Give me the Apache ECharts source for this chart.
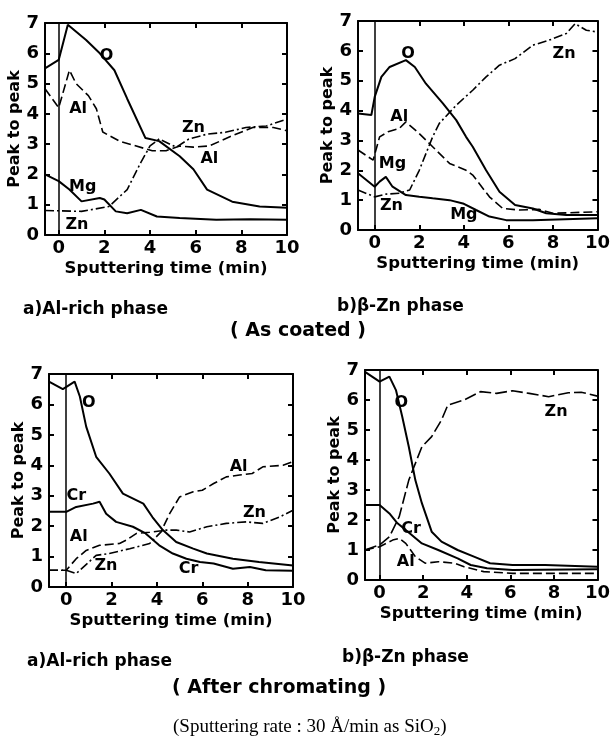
<!DOCTYPE html>
<html>
<head>
<meta charset="utf-8">
<script src="https://cdn.jsdelivr.net/npm/echarts@6/dist/echarts.min.js"></script>
<style>
html, body { margin: 0; padding: 0; background: #fff; }
#chart { width: 613px; height: 745px; }
</style>
</head>
<body>
<div id="chart"></div>
<script>
var xTicks = [0, 2, 4, 6, 8, 10];
var yMax = 7;

// (As coated) a) Al-rich phase  -- [time (min), peak to peak]
var coatedAl_O  = [[-0.6,5.5],[0,5.78],[0.4,6.94],[1.2,6.44],[1.8,6.0],[2.44,5.44],[3.0,4.5],[3.8,3.2],[4.4,3.1],[5.3,2.6],[5.9,2.17],[6.5,1.5],[7.6,1.1],[8.8,0.94],[10,0.9]];
var coatedAl_Al = [[-0.6,4.83],[0,4.2],[0.47,5.44],[0.76,5.0],[1.3,4.6],[1.65,4.17],[1.93,3.4],[2.66,3.1],[4.1,2.78],[4.7,2.78],[5.3,2.94],[5.9,2.9],[6.6,2.94],[7.6,3.28],[8.5,3.55],[9.4,3.55],[10,3.44]];
var coatedAl_Zn = [[-0.6,0.81],[1.0,0.78],[2.2,0.94],[3.0,1.5],[3.6,2.4],[4.0,2.94],[4.4,3.17],[5.15,2.9],[5.7,3.17],[6.5,3.33],[7.3,3.39],[8.2,3.55],[9.1,3.6],[10,3.83]];
var coatedAl_Mg = [[-0.6,2.0],[0,1.78],[0.47,1.5],[1.0,1.11],[1.8,1.22],[2.0,1.17],[2.5,0.78],[3.0,0.72],[3.6,0.83],[4.3,0.61],[5.3,0.56],[6.9,0.5],[8.4,0.52],[10,0.5]];
var coatedAl_labels = [[2.1,5.9,'O'],[0.85,4.15,'Al'],[5.9,3.55,'Zn'],[6.6,2.5,'Al'],[1.05,1.6,'Mg'],[0.8,0.35,'Zn']];

// (As coated) b) beta-Zn phase
var coatedZn_O  = [[-0.75,3.9],[-0.15,3.85],[0,4.46],[0.3,5.13],[0.67,5.46],[1.4,5.69],[1.8,5.46],[2.3,4.9],[3.06,4.24],[3.66,3.68],[4.1,3.12],[4.4,2.79],[5.0,2.0],[5.6,1.28],[6.3,0.84],[7.1,0.72],[7.7,0.56],[8.6,0.5],[10,0.5]];
var coatedZn_Al = [[-0.75,2.68],[-0.07,2.34],[0.22,3.12],[0.6,3.29],[1.1,3.4],[1.4,3.62],[2.0,3.23],[2.6,2.79],[3.36,2.23],[4.1,2.0],[4.4,1.84],[5.15,1.11],[5.75,0.72],[6.5,0.67],[7.4,0.69],[8.0,0.56],[10,0.61]];
var coatedZn_Zn = [[-0.75,1.34],[0,1.11],[0.5,1.2],[1.1,1.23],[1.57,1.34],[2.0,2.0],[2.6,3.12],[2.9,3.57],[3.66,4.18],[4.4,4.68],[5.0,5.13],[5.6,5.52],[6.3,5.74],[7.1,6.19],[7.8,6.35],[8.6,6.58],[9.0,6.91],[9.5,6.69],[10,6.63]];
var coatedZn_Mg = [[-0.75,1.9],[0,1.45],[0.22,1.62],[0.5,1.78],[0.8,1.45],[1.4,1.17],[2.0,1.11],[2.6,1.06],[3.36,1.0],[3.96,0.89],[4.55,0.67],[5.15,0.45],[5.9,0.33],[7.1,0.33],[10,0.39]];
var coatedZn_labels = [[1.5,5.9,'O'],[1.1,3.8,'Al'],[0.8,2.2,'Mg'],[0.75,0.8,'Zn'],[4.0,0.5,'Mg'],[8.5,5.9,'Zn']];

// (After chromating) a) Al-rich phase
var chromAl_O  = [[-0.76,6.75],[-0.15,6.5],[0.37,6.75],[0.6,6.26],[0.88,5.27],[1.32,4.28],[1.9,3.73],[2.5,3.07],[3.4,2.74],[3.8,2.3],[4.26,1.87],[4.85,1.48],[5.6,1.26],[6.2,1.1],[7.35,0.93],[8.5,0.82],[10,0.71]];
var chromAl_Cr = [[-0.76,2.47],[0,2.47],[0.44,2.63],[1.18,2.74],[1.47,2.8],[1.76,2.41],[2.2,2.14],[2.94,1.98],[3.5,1.76],[4.1,1.37],[4.7,1.1],[5.3,0.93],[5.9,0.82],[6.5,0.77],[7.35,0.6],[8.1,0.66],[8.8,0.55],[10,0.53]];
var chromAl_Al = [[-0.76,0.55],[0,0.55],[0.44,0.93],[0.88,1.2],[1.47,1.37],[2.35,1.43],[2.65,1.54],[3.1,1.76],[3.68,1.8],[4.2,1.85],[4.56,2.41],[5.0,2.96],[5.6,3.13],[6.0,3.18],[6.5,3.4],[7.06,3.62],[7.65,3.68],[8.2,3.73],[8.67,3.95],[9.56,4.0],[10,4.12]];
var chromAl_Zn = [[-0.76,0.55],[0,0.55],[0.44,0.44],[1.32,1.04],[1.9,1.1],[2.8,1.26],[3.68,1.43],[4.26,1.87],[4.85,1.87],[5.44,1.81],[6.2,1.98],[7.06,2.09],[7.94,2.14],[8.67,2.09],[9.4,2.3],[10,2.52]];
var chromAl_labels = [[1.0,6.05,'O'],[0.45,3.0,'Cr'],[0.55,1.65,'Al'],[1.75,0.7,'Zn'],[5.4,0.6,'Cr'],[7.6,3.95,'Al'],[8.3,2.45,'Zn']];

// (After chromating) b) beta-Zn phase
var chromZn_O  = [[-0.67,6.94],[0,6.61],[0.45,6.78],[0.75,6.33],[1.04,5.44],[1.34,4.44],[1.64,3.33],[1.94,2.56],[2.39,1.61],[2.84,1.28],[3.58,1.0],[4.33,0.78],[5.07,0.56],[6.1,0.5],[7.6,0.5],[10,0.44]];
var chromZn_Zn = [[-0.67,1.0],[0,1.17],[0.45,1.44],[0.9,2.11],[1.34,3.33],[1.94,4.44],[2.39,4.78],[2.84,5.33],[3.13,5.83],[3.88,6.0],[4.63,6.28],[5.37,6.22],[6.1,6.31],[6.87,6.22],[7.76,6.11],[8.66,6.24],[9.25,6.26],[10,6.13]];
var chromZn_Cr = [[-0.67,2.5],[0,2.5],[0.45,2.22],[0.82,1.89],[1.2,1.67],[1.94,1.22],[2.69,1.0],[3.58,0.72],[4.18,0.5],[4.93,0.39],[6.1,0.33],[10,0.36]];
var chromZn_Al = [[-0.67,1.0],[0,1.11],[0.6,1.33],[0.9,1.39],[1.2,1.22],[1.64,0.78],[2.09,0.56],[2.69,0.61],[3.43,0.56],[3.88,0.44],[4.78,0.28],[6.1,0.22],[10,0.22]];
var chromZn_labels = [[1.0,5.9,'O'],[8.1,5.6,'Zn'],[1.45,1.7,'Cr'],[1.2,0.6,'Al']];

var SOLID = 'solid', DASH = [9, 4], DASHDOT = [9, 3, 2, 3], LONGDASH = [12, 4];

var panels = [
    { grid: { left: 45, top: 23, width: 242, height: 212 }, xMin: -0.6,
      lines: [[coatedAl_O, SOLID], [coatedAl_Al, DASH], [coatedAl_Zn, DASHDOT], [coatedAl_Mg, SOLID]],
      labels: coatedAl_labels },
    { grid: { left: 358, top: 21, width: 240, height: 209 }, xMin: -0.75,
      lines: [[coatedZn_O, SOLID], [coatedZn_Al, DASH], [coatedZn_Zn, DASHDOT], [coatedZn_Mg, SOLID]],
      labels: coatedZn_labels },
    { grid: { left: 49, top: 374, width: 244, height: 213 }, xMin: -0.76,
      lines: [[chromAl_O, SOLID], [chromAl_Cr, SOLID], [chromAl_Al, DASH], [chromAl_Zn, DASHDOT]],
      labels: chromAl_labels },
    { grid: { left: 365, top: 370, width: 238, height: 210 }, xMin: -0.67,
      lines: [[chromZn_O, SOLID], [chromZn_Zn, LONGDASH], [chromZn_Cr, SOLID], [chromZn_Al, DASH]],
      labels: chromZn_labels }
];

var font = 'DejaVu Sans';
var grid = [], xAxis = [], yAxis = [], series = [];

panels.forEach(function (p, i) {
    grid.push(p.grid);
    // bottom and top x axes
    xAxis.push({
        type: 'value', gridIndex: i, min: p.xMin, max: 10, position: 'bottom',
        name: 'Sputtering time (min)', nameLocation: 'middle', nameGap: 25,
        nameTextStyle: { fontFamily: font, fontWeight: 'bold', fontSize: 16.5, color: '#000' },
        axisLine: { onZero: false, lineStyle: { color: '#000', width: 2 } },
        axisTick: { inside: true, length: 5, customValues: xTicks, lineStyle: { color: '#000', width: 2 } },
        axisLabel: { customValues: xTicks, margin: 4, fontFamily: font, fontWeight: 'bold', fontSize: 18, color: '#000' },
        splitLine: { show: false }
    });
    xAxis.push({
        type: 'value', gridIndex: i, min: p.xMin, max: 10, position: 'top',
        axisLine: { onZero: false, lineStyle: { color: '#000', width: 2 } },
        axisTick: { inside: true, length: 5, customValues: xTicks.slice(1, 5), lineStyle: { color: '#000', width: 2 } },
        axisLabel: { show: false }, splitLine: { show: false }
    });
    yAxis.push({
        type: 'value', gridIndex: i, min: 0, max: yMax, interval: 1, position: 'left',
        name: 'Peak to peak', nameLocation: 'middle', nameGap: 19,
        nameTextStyle: { fontFamily: font, fontWeight: 'bold', fontSize: 16, color: '#000' },
        axisLine: { onZero: false, lineStyle: { color: '#000', width: 2 } },
        axisTick: { inside: true, length: 5, lineStyle: { color: '#000', width: 2 } },
        axisLabel: { margin: 6, fontFamily: font, fontWeight: 'bold', fontSize: 18, color: '#000' },
        splitLine: { show: false }
    });
    yAxis.push({
        type: 'value', gridIndex: i, min: 0, max: yMax, interval: 1, position: 'right',
        axisLine: { onZero: false, lineStyle: { color: '#000', width: 2 } },
        axisTick: { inside: true, length: 5, lineStyle: { color: '#000', width: 2 } },
        axisLabel: { show: false }, splitLine: { show: false }
    });

    p.lines.forEach(function (l, k) {
        var s = {
            type: 'line', xAxisIndex: 2 * i, yAxisIndex: 2 * i, data: l[0],
            symbol: 'none', smooth: false, animation: false,
            lineStyle: { color: '#000', width: l[1] === SOLID ? 2 : 1.6, type: l[1] }
        };
        if (k === 0) {
            s.markLine = {
                silent: true, symbol: 'none', label: { show: false }, animation: false,
                lineStyle: { color: '#000', width: 1.5, type: 'solid' },
                data: [{ xAxis: 0 }]
            };
        }
        series.push(s);
    });

    series.push({
        type: 'scatter', xAxisIndex: 2 * i, yAxisIndex: 2 * i, symbolSize: 0, animation: false,
        silent: true,
        itemStyle: { color: '#000' },
        data: p.labels.map(function (d) { return { value: [d[0], d[1]], name: d[2] }; }),
        label: {
            show: true, position: 'inside', formatter: '{b}',
            fontFamily: font, fontWeight: 'bold', fontSize: 16, color: '#000',
            textBorderWidth: 0, textBorderColor: 'transparent', opacity: 1
        }
    });
});

var capFont = 'bold 17px "DejaVu Sans"';
var headFont = 'bold 19px "DejaVu Sans"';

var chart = echarts.init(document.getElementById('chart'));
chart.setOption({
    animation: false,
    grid: grid,
    xAxis: xAxis,
    yAxis: yAxis,
    series: series,
    graphic: [
        { type: 'text', left: 23, top: 301, style: { text: 'a)Al-rich phase', font: capFont, fill: '#000' } },
        { type: 'text', left: 337, top: 298, style: { text: 'b)β-Zn phase', font: capFont, fill: '#000' } },
        { type: 'text', left: 230, top: 322, style: { text: '( As coated )', font: headFont, fill: '#000' } },
        { type: 'text', left: 27, top: 653, style: { text: 'a)Al-rich phase', font: capFont, fill: '#000' } },
        { type: 'text', left: 342, top: 649, style: { text: 'b)β-Zn phase', font: capFont, fill: '#000' } },
        { type: 'text', left: 172, top: 679, style: { text: '( After chromating )', font: headFont, fill: '#000' } },
        { type: 'text', left: 173, top: 718, style: {
            text: '(Sputtering rate : 30 Å/min as SiO{s|2})',
            font: '19px "Liberation Serif"', fill: '#000',
            rich: { s: { fontFamily: 'Liberation Serif', fontSize: 13, padding: [8, 0, 0, 0] } }
        } }
    ]
});
</script>
</body>
</html>
